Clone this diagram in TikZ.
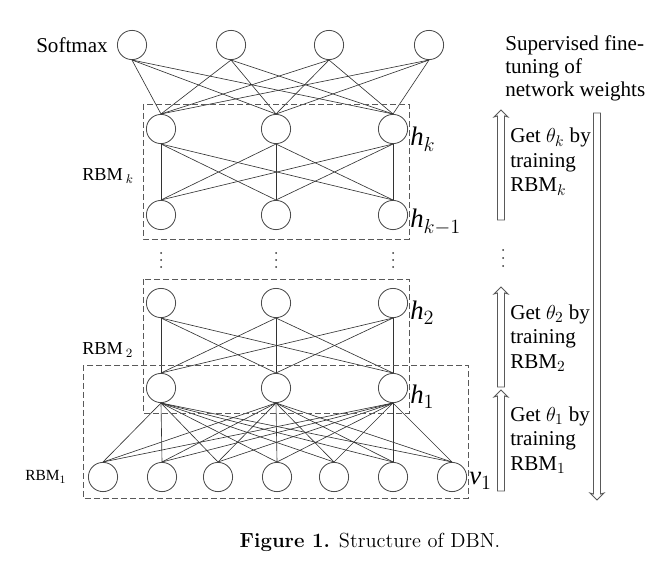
\documentclass[tikz,border=0pt]{standalone}
\usepackage{amsmath}
\usepackage{amssymb}
\usepackage{fontspec}
\newfontfamily\tnr{Liberation Serif}
\usepackage{tikz}
\usetikzlibrary{calc}
\tikzset{
  unit/.style={circle, draw=black!70, line width=0.6pt, minimum size=7.3mm, inner sep=0pt},
  wire/.style={draw=black!80, line width=0.45pt},
  rbm/.style={draw=black!65, line width=0.6pt, dash pattern=on 4.2pt off 2.2pt},
  lbl/.style={font=\tnr\fontsize{15}{17.4}\selectfont, inner sep=0pt},
  rbmlbl/.style={font=\tnr\fontsize{13}{15}\selectfont, inner sep=0pt, anchor=west},
  lyr/.style={font=\tnr\fontsize{19}{21}\selectfont, inner sep=0pt, anchor=west},
  hollow/.style={draw=black!65, line width=0.6pt, fill=white, line join=miter},
}

\begin{document}
\begin{tikzpicture}[x=0.25mm, y=-0.25mm]
    \useasboundingbox (0,0) rectangle (650,568);

    % softmax layer
    \node[unit] (soft-1) at (132,45) {};
    \node[unit] (soft-2) at (231,45) {};
    \node[unit] (soft-3) at (329,45) {};
    \node[unit] (soft-4) at (429,45) {};
    \node[lbl, anchor=east] (softmax) at (108,45) {Softmax};

    % hidden layers
    \foreach \i/\x in {1/161, 2/276, 3/393} {
        \node[unit] (hk-\i) at (\x,129) {};
        \node[unit] (hkm-\i) at (\x,215) {};
        \node[unit] (h2-\i) at (\x,303) {};
        \node[unit] (h1-\i) at (\x,388) {};
        \foreach \y in {253,260,267}
            \fill[black!80] (\x,\y) circle (1);
    }

    % visible layer
    \foreach \i/\x in {1/103, 2/162, 3/218, 4/277, 5/334, 6/393, 7/452}
        \node[unit] (v-\i) at (\x,477) {};

    \node[lyr] (lab-hk) at (410,139) {\textit{h}$_k$};
    \node[lyr] (lab-hkm) at (410,222) {\textit{h}$_{k-1}$};
    \node[lyr] (lab-h2) at (410,313) {\textit{h}$_2$};
    \node[lyr] (lab-h1) at (410,397) {\textit{h}$_1$};
    \node[lyr] (lab-v1) at (469,481) {\textit{v}$_1$};

    % connections
    \foreach \a in {1,...,4}
        \foreach \b in {1,...,3}
            \draw[wire] (soft-\a.south) -- (hk-\b.north);
    \foreach \a in {1,...,3}
        \foreach \b in {1,...,3} {
            \draw[wire] (hk-\a.south) -- (hkm-\b.north);
            \draw[wire] (h2-\a.south) -- (h1-\b.north);
        }
    \foreach \a in {1,...,3}
        \foreach \b in {1,...,7}
            \draw[wire] (h1-\a.south) -- (v-\b.north);

    % RBM boxes
    \draw[rbm] (143,104) rectangle (409,239);
    \draw[rbm] (143,279) rectangle (409,413);
    \draw[rbm] (83,365) rectangle (468,498);
    \node[rbmlbl] (rbm-k) at (82,176) {RBM\,$_k$};
    \node[rbmlbl] (rbm-2) at (82,350) {RBM\,$_2$};
    \node[rbmlbl, font=\tnr\fontsize{11}{13}\selectfont] (rbm-1) at (25,477) {RBM$_1$};

    % training arrows
    \coordinate (up-k-s) at (501,220);
    \coordinate (up-k-e) at (501,110);
    \coordinate (up-2-s) at (501,387);
    \coordinate (up-2-e) at (501,287);
    \coordinate (up-1-s) at (501,491);
    \coordinate (up-1-e) at (501,390);
    \coordinate (down-s) at (597,113);
    \coordinate (down-e) at (597,500);
    \foreach \s/\e in {up-k-s/up-k-e, up-2-s/up-2-e, up-1-s/up-1-e}
        \draw[hollow] ($(\s)+(-3.5,0)$) -- ($(\e)+(-3.5,6)$) -- ($(\e)+(-7,7)$)
            -- (\e) -- ($(\e)+(7,7)$) -- ($(\e)+(3.5,6)$) -- ($(\s)+(3.5,0)$) -- cycle;
    \draw[hollow] ($(down-s)+(-3.5,0)$) -- ($(down-e)+(-3.5,-6)$) -- ($(down-e)+(-7,-7)$)
        -- (down-e) -- ($(down-e)+(7,-7)$) -- ($(down-e)+(3.5,-6)$) -- ($(down-s)+(3.5,0)$) -- cycle;
    \foreach \y in {250,258,266}
        \fill[black!80] (503,\y) circle (1);

    \node[lbl, anchor=west, align=left, font=\tnr\fontsize{15}{16.4}\selectfont] (fine) at (505,68) {Supervised fine-\\tuning of\\network weights};
    \node[lbl, anchor=west, align=left] (get-k) at (510,162) {Get $\theta_k$ by\\training\\RBM$_k$};
    \node[lbl, anchor=west, align=left] (get-2) at (510,338) {Get $\theta_2$ by\\training\\RBM$_2$};
    \node[lbl, anchor=west, align=left] (get-1) at (510,440) {Get $\theta_1$ by\\training\\RBM$_1$};

    \node[font=\fontsize{14.5}{17}\selectfont] (caption) at (370,542) {\textbf{Figure 1.} Structure of DBN.};
\end{tikzpicture}
\end{document}
